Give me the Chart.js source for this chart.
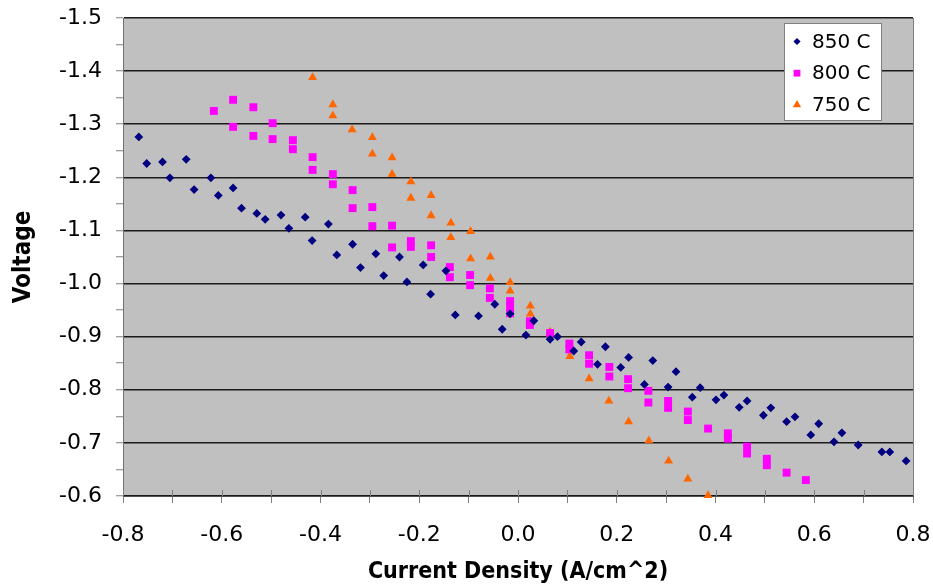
<!DOCTYPE html>
<html>
<head>
<meta charset="utf-8">
<script src="https://cdn.jsdelivr.net/npm/chart.js@4.4.1/dist/chart.umd.min.js"></script>
<style>
  html, body { margin: 0; padding: 0; background: #ffffff; }
  #wrap { width: 933px; height: 586px; }
</style>
</head>
<body>
<div id="wrap"><canvas id="c" width="933" height="586"></canvas></div>
<script>
// Polarization data: current density (A/cm^2) vs voltage, three cell temperatures
const seriesNames = ['850 C', '800 C', '750 C'];

const t850x = [-0.768, -0.752, -0.720, -0.705, -0.672, -0.656, -0.622, -0.607, -0.577, -0.560,
  -0.529, -0.512, -0.480, -0.464, -0.431, -0.417, -0.384, -0.367, -0.335, -0.319,
  -0.288, -0.272, -0.240, -0.225, -0.192, -0.177, -0.146, -0.127, -0.080, -0.047,
  -0.032, -0.016, 0.016, 0.032, 0.065, 0.080, 0.113, 0.128, 0.161, 0.177,
  0.208, 0.224, 0.256, 0.273, 0.304, 0.320, 0.353, 0.369, 0.401, 0.417,
  0.448, 0.464, 0.497, 0.512, 0.544, 0.561, 0.593, 0.609, 0.640, 0.656,
  0.689, 0.737, 0.753, 0.786];
const t850y = [-1.276, -1.226, -1.229, -1.199, -1.234, -1.177, -1.199, -1.166, -1.180, -1.142,
  -1.132, -1.121, -1.129, -1.104, -1.125, -1.081, -1.112, -1.054, -1.074, -1.030,
  -1.056, -1.015, -1.050, -1.003, -1.035, -0.980, -1.024, -0.941, -0.939, -0.961,
  -0.914, -0.943, -0.903, -0.930, -0.895, -0.900, -0.873, -0.890, -0.848, -0.881,
  -0.842, -0.861, -0.810, -0.855, -0.805, -0.834, -0.786, -0.804, -0.781, -0.790,
  -0.767, -0.779, -0.752, -0.766, -0.740, -0.749, -0.715, -0.736, -0.702, -0.719,
  -0.696, -0.683, -0.683, -0.666];

const t800x = [-0.616, -0.577, -0.577, -0.536, -0.536, -0.497, -0.497, -0.456, -0.456, -0.416,
  -0.416, -0.375, -0.375, -0.335, -0.335, -0.295, -0.295, -0.255, -0.255, -0.217,
  -0.217, -0.176, -0.176, -0.138, -0.138, -0.097, -0.097, -0.057, -0.057, -0.016,
  -0.016, -0.016, 0.024, 0.024, 0.065, 0.104, 0.104, 0.144, 0.144, 0.185,
  0.185, 0.223, 0.223, 0.264, 0.264, 0.304, 0.304, 0.344, 0.344, 0.385,
  0.425, 0.425, 0.464, 0.464, 0.504, 0.504, 0.544, 0.583];
const t800y = [-1.325, -1.346, -1.295, -1.332, -1.278, -1.302, -1.272, -1.270, -1.253, -1.238,
  -1.214, -1.206, -1.187, -1.176, -1.142, -1.144, -1.108, -1.109, -1.068, -1.080,
  -1.069, -1.072, -1.050, -1.031, -1.012, -1.016, -0.997, -0.991, -0.973, -0.967,
  -0.956, -0.944, -0.929, -0.922, -0.907, -0.887, -0.876, -0.865, -0.849, -0.843,
  -0.825, -0.820, -0.803, -0.798, -0.776, -0.779, -0.766, -0.759, -0.743, -0.727,
  -0.718, -0.708, -0.693, -0.680, -0.670, -0.658, -0.644, -0.630];

const t750x = [-0.416, -0.375, -0.375, -0.336, -0.295, -0.295, -0.255, -0.255, -0.217, -0.217,
  -0.176, -0.176, -0.136, -0.136, -0.096, -0.096, -0.056, -0.056, -0.016, -0.016,
  0.025, 0.025, 0.065, 0.105, 0.144, 0.184, 0.224, 0.265, 0.305, 0.344, 0.385];
const t750y = [-1.388, -1.337, -1.316, -1.290, -1.275, -1.244, -1.237, -1.206, -1.192, -1.161,
  -1.166, -1.128, -1.114, -1.087, -1.098, -1.047, -1.050, -1.010, -1.002, -0.986,
  -0.958, -0.943, -0.909, -0.863, -0.821, -0.779, -0.740, -0.704, -0.666, -0.632, -0.601];

const xTickLabels = ['-0.8', '-0.6', '-0.4', '-0.2', '0.0', '0.2', '0.4', '0.6', '0.8'];
const yTickLabels = ['-1.5', '-1.4', '-1.3', '-1.2', '-1.1', '-1.0', '-0.9', '-0.8', '-0.7', '-0.6'];

const toPoints = (xs, ys) => xs.map((x, i) => ({ x: x, y: ys[i] }));
// label for a tick value, blank for the minor (unlabelled) ticks
const labelFor = (list, v) => list.find(l => Math.abs(parseFloat(l) - v) < 1e-6) || '';
const isMajor = v => Math.abs(v * 10 - Math.round(v * 10)) < 1e-6;

const FONT = 'DejaVu Sans';
const TITLE_FONT = '"DejaVu Sans Condensed", "DejaVu Sans"';
const COLORS = ['#000080', '#ff00ff', '#ff6600'];
const STYLES = ['rectRot', 'rect', 'triangle'];
const RADII = [4.4, 5.6, 5.2];

// grey plot area and its right edge
const plotFrame = {
  id: 'plotFrame',
  beforeDraw(chart) {
    const { ctx, chartArea: a } = chart;
    ctx.save();
    ctx.fillStyle = '#c0c0c0';
    ctx.fillRect(a.left, a.top, a.right - a.left, a.bottom - a.top);
    ctx.restore();
  },
  beforeDatasetsDraw(chart) {
    const { ctx, chartArea: a } = chart;
    const xs = chart.scales.x;
    ctx.save();
    ctx.strokeStyle = '#808080';
    ctx.lineWidth = 1;
    ctx.beginPath();
    ctx.moveTo(Math.round(a.right) + 0.5, a.top);
    ctx.lineTo(Math.round(a.right) + 0.5, a.bottom);
    // x tick marks continue a little above the axis
    xs.ticks.forEach(t => {
      const px = Math.round(xs.getPixelForValue(t.value)) + 0.5;
      ctx.moveTo(px, a.bottom - 6);
      ctx.lineTo(px, a.bottom);
    });
    ctx.stroke();
    ctx.restore();
  }
};

function marker(ctx, style, x, y, r) {
  ctx.beginPath();
  if (style === 'rectRot') {
    ctx.moveTo(x - r, y); ctx.lineTo(x, y - r); ctx.lineTo(x + r, y); ctx.lineTo(x, y + r);
  } else if (style === 'rect') {
    const h = r * Math.SQRT1_2;
    ctx.rect(x - h, y - h, 2 * h, 2 * h);
  } else {
    ctx.moveTo(x, y - r);
    ctx.lineTo(x + r * Math.sin(2 * Math.PI / 3), y - r * Math.cos(2 * Math.PI / 3));
    ctx.lineTo(x + r * Math.sin(4 * Math.PI / 3), y - r * Math.cos(4 * Math.PI / 3));
  }
  ctx.closePath();
  ctx.fill();
}

// boxed legend in the upper right corner of the plot
const boxLegend = {
  id: 'boxLegend',
  afterDraw(chart) {
    const { ctx, chartArea: a } = chart;
    const bx = a.right - 128.5, by = a.top + 5.5, bw = 97, bh = 97;
    ctx.save();
    ctx.fillStyle = '#ffffff';
    ctx.fillRect(bx, by, bw, bh);
    ctx.strokeStyle = '#808080';
    ctx.lineWidth = 1;
    ctx.strokeRect(bx, by, bw, bh);
    ctx.font = '20px "' + FONT + '"';
    ctx.textBaseline = 'middle';
    ctx.textAlign = 'left';
    const legR = [3.6, 4.8, 4.8];
    chart.data.datasets.forEach((ds, i) => {
      const cy = by + 18 + i * 31.7;
      ctx.fillStyle = ds.backgroundColor;
      marker(ctx, ds.pointStyle, bx + 12.5, cy, legR[i]);
      ctx.fillStyle = '#000000';
      ctx.fillText(ds.label, bx + 27.5, cy + 1);
    });
    ctx.restore();
  }
};

const seriesX = [t850x, t800x, t750x];
const seriesY = [t850y, t800y, t750y];

new Chart(document.getElementById('c'), {
  type: 'scatter',
  data: {
    datasets: seriesNames.map((name, i) => ({
      label: name,
      data: toPoints(seriesX[i], seriesY[i]),
      pointStyle: STYLES[i],
      pointRadius: RADII[i],
      backgroundColor: COLORS[i],
      borderColor: COLORS[i],
      borderWidth: 0,
      clip: false
    }))
  },
  options: {
    responsive: false,
    devicePixelRatio: 1,
    animation: false,
    events: [],
    layout: { padding: { left: 0, right: 20, top: 18, bottom: 0 } },
    plugins: { legend: { display: false }, tooltip: { enabled: false } },
    scales: {
      x: {
        type: 'linear', min: -0.8, max: 0.8,
        ticks: {
          stepSize: 0.1, autoSkip: false, maxRotation: 0, padding: 19, color: '#000',
          font: { family: FONT, size: 22 },
          callback: v => labelFor(xTickLabels, v)
        },
        grid: { drawOnChartArea: false, drawTicks: true, tickLength: 7, color: '#808080', tickWidth: 1 },
        border: { display: true, color: '#505050', width: 1 },
        title: {
          display: true, text: 'Current Density (A/cm^2)', color: '#000',
          font: { family: TITLE_FONT, size: 23, weight: 'bold' }, padding: { top: 0, bottom: 0 }
        },
        afterFit(s) { s.height = 90; s.paddingLeft = 0; s.paddingRight = 0; }
      },
      y: {
        type: 'linear', min: -1.5, max: -0.6, reverse: true,
        ticks: {
          stepSize: 0.05, autoSkip: false, padding: 14, color: '#000',
          font: { family: FONT, size: 22 },
          callback: v => labelFor(yTickLabels, v)
        },
        grid: {
          color: c => (c.tick && isMajor(c.tick.value) ? '#1a1a1a' : 'rgba(0,0,0,0)'),
          lineWidth: 1.5, drawTicks: true, tickLength: 7, tickColor: '#808080', tickWidth: 1
        },
        border: { display: true, color: '#707070', width: 1 },
        title: {
          display: true, text: 'Voltage', color: '#000',
          font: { family: TITLE_FONT, size: 24, weight: 'bold' }, padding: { top: 9, bottom: 0 }
        },
        afterFit(s) { s.width = 123; s.paddingTop = 0; s.paddingBottom = 0; }
      }
    }
  },
  plugins: [plotFrame, boxLegend]
});
</script>
</body>
</html>
